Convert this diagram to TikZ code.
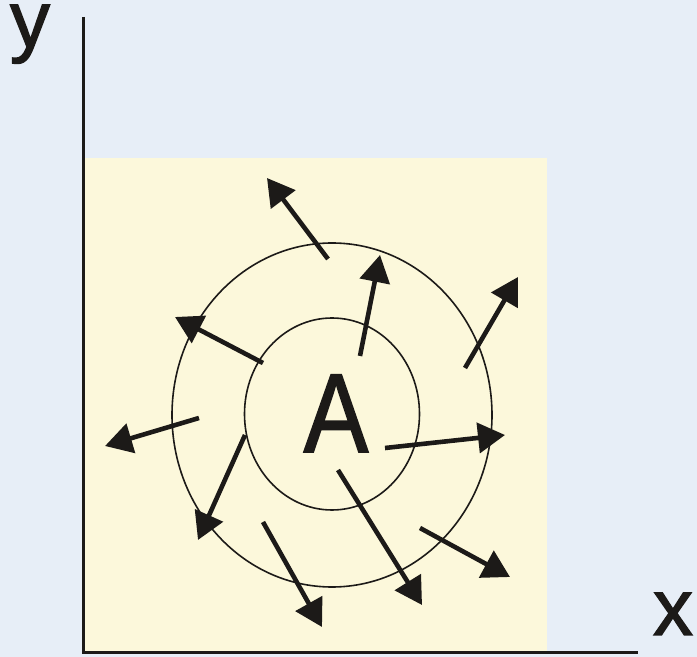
\documentclass[tikz,border=0pt]{standalone}
\usepackage{fontspec}
\setmainfont{Liberation Sans}
\newfontfamily\heavyfont{Liberation Sans}[FakeBold=1.6]
\usetikzlibrary{arrows.meta}
\definecolor{paleblue}{HTML}{E7EEF7}
\definecolor{paleyellow}{HTML}{FCF8DB}
\definecolor{ink}{HTML}{1C1A18}

\tikzset{
  flux/.style={ink, line width=2.3pt, -{Triangle[length=13.5pt, width=15pt]}},
  ring/.style={ink, line width=0.8pt},
  axislabel/.style={ink, font=\heavyfont\fontsize{40}{42}\selectfont, inner sep=0pt, anchor=base}
}

\begin{document}
\begin{tikzpicture}[x=0.5pt, y=-0.5pt]
  \fill[paleblue] (0,0) rectangle (697,657);
  \useasboundingbox (0,0) rectangle (697,657);
  \fill[paleyellow] (83,158) rectangle (547,653);
  % axes
  \coordinate (ytop) at (83,17);
  \coordinate (xend) at (638,653);
  \draw[ink, line width=1.5pt] (ytop) |- (xend);
  \node[axislabel] (ylab) at (30,47) {y};
  \node[axislabel] (xlab) at (673,635) {x};
  % regions around A
  \draw[ring] (332,414) ellipse [x radius=87.5, y radius=96];
  \draw[ring] (332,415) ellipse [x radius=160, y radius=172];
  \node[ink, inner sep=0pt, anchor=base, font=\heavyfont\fontsize{55}{60}\selectfont]
    (A) at (336,452) {\scalebox{0.88}[1.02]{A}};
  % flux arrows
  \foreach \i/\xa/\ya/\xb/\yb in {1/328/259/267/178, 2/360/356/380/255, 3/465/368/518/277,
      4/263/363/175/317, 5/199/418/105/446, 6/245/435/198/540, 7/263/522/322/627,
      8/338/470/422/605, 9/385/448/505/435, 10/420/528/510/577}{
    \coordinate (s\i) at (\xa,\ya);
    \coordinate (e\i) at (\xb,\yb);
    \draw[flux] (s\i) -- (e\i);
  }
\end{tikzpicture}
\end{document}
